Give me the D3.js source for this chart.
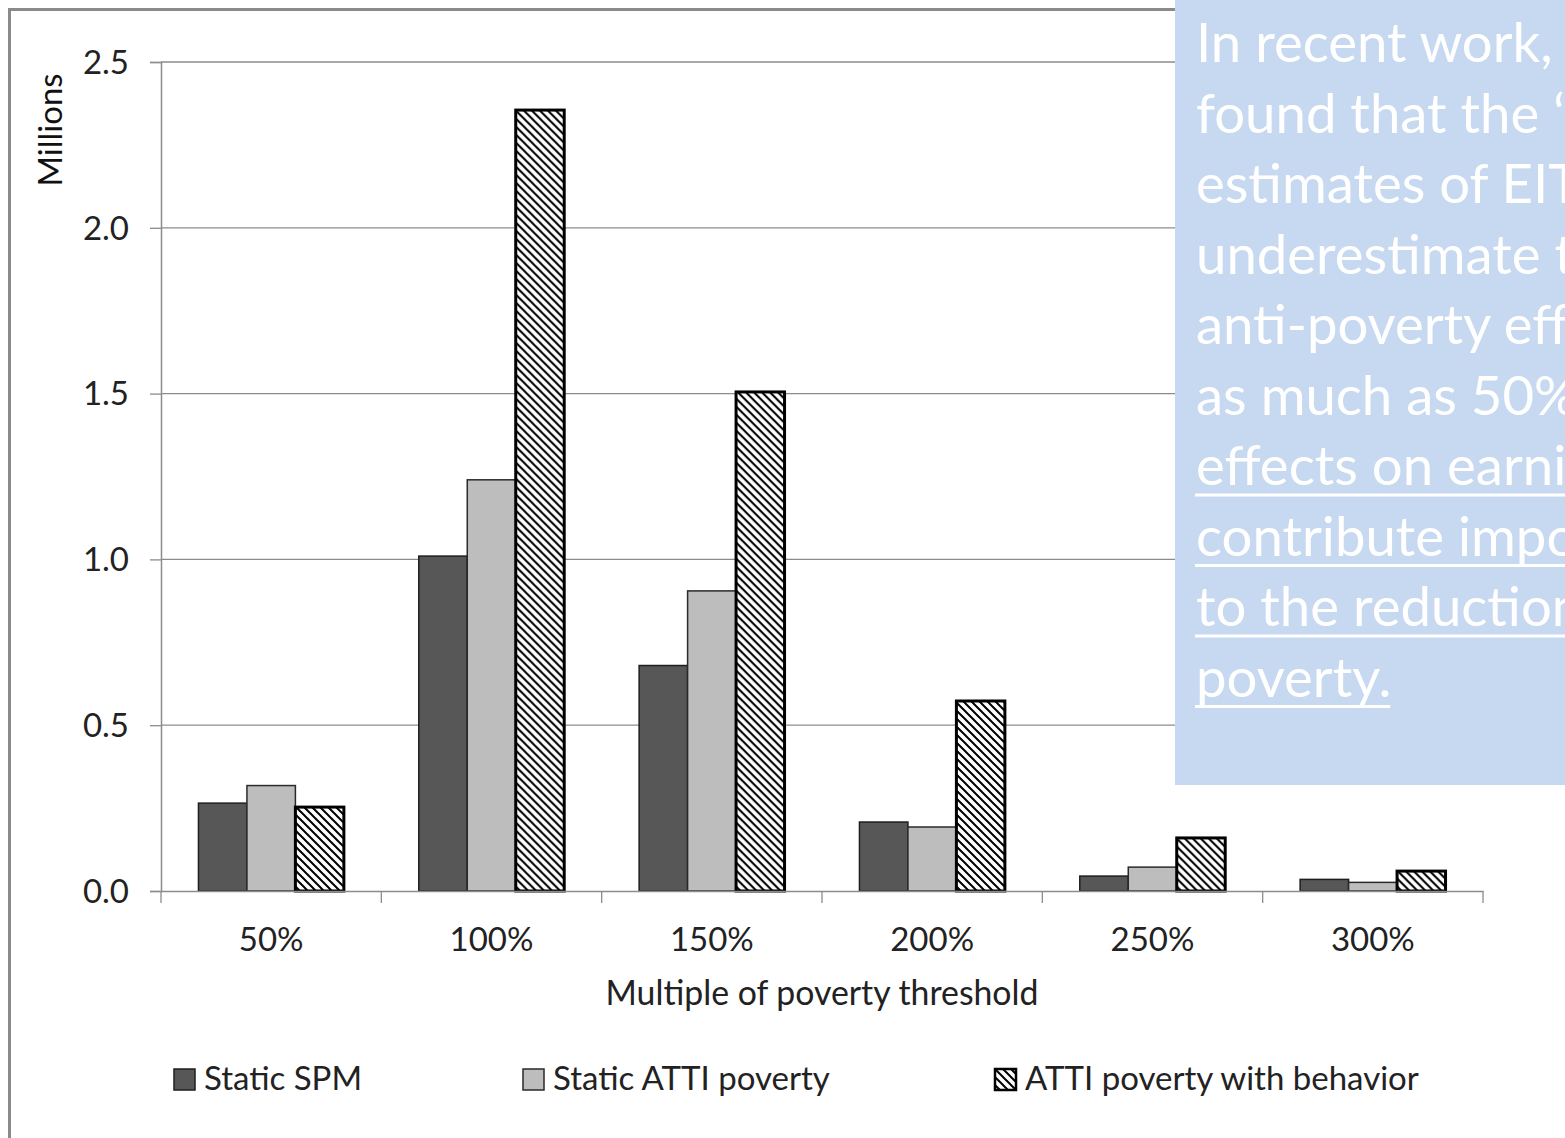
<!DOCTYPE html>
<html>
<head>
<meta charset="utf-8">
<script src="https://cdnjs.cloudflare.com/ajax/libs/d3/7.8.5/d3.min.js"></script>
<style>
  html, body { margin: 0; padding: 0; background: #fff; }
  svg { display: block; }
</style>
</head>
<body>
<svg id="chart" width="1565" height="1138"></svg>
<script>
// Poverty counts (millions) by multiple of the poverty threshold
const categories = ["50%", "100%", "150%", "200%", "250%", "300%"];
const seriesNames = ["Static SPM", "Static ATTI poverty", "ATTI poverty with behavior"];
const staticSPM      = [0.265, 1.01, 0.68, 0.208, 0.045, 0.035];
const staticATTI     = [0.318, 1.24, 0.905, 0.193, 0.072, 0.026];
const attiBehavior   = [0.253, 2.355, 1.505, 0.573, 0.16, 0.06];
const yTicks = [0, 0.5, 1.0, 1.5, 2.0, 2.5];

const noteLines = [
  { text: "In recent work, we have", u: false },
  { text: "found that the \u2018static\u2019", u: false },
  { text: "estimates of EITC effects", u: false },
  { text: "underestimate the", u: false },
  { text: "anti-poverty effects by", u: false },
  { text: "as much as 50%. The", u: false },
  { text: "effects on earnings", u: true },
  { text: "contribute importantly", u: true },
  { text: "to the reduction of", u: true },
  { text: "poverty.", u: true }
];

const seriesValues = [staticSPM, staticATTI, attiBehavior];
const FONT = "Lato, 'Open Sans', sans-serif";
const svg = d3.select("#chart");

// Diagonal hatch fill for the behavioral series
const defs = svg.append("defs");
const pat = defs.append("pattern")
  .attr("id", "hatch").attr("patternUnits", "userSpaceOnUse")
  .attr("width", 8).attr("height", 8);
pat.append("rect").attr("width", 8).attr("height", 8).attr("fill", "#fff");
pat.append("path")
  .attr("d", "M-2,-2L10,10M-2,6L2,10M6,-2L10,2")
  .attr("stroke", "#000").attr("stroke-width", 2);

const styles = [
  { fill: "#575757", stroke: "#1e1e1e", sw: 1.5 },
  { fill: "#bdbdbd", stroke: "#2a2a2a", sw: 1.5 },
  { fill: "url(#hatch)", stroke: "#000", sw: 3 }
];

// Outer chart frame
svg.append("rect")
  .attr("x", 9.5).attr("y", 9.5).attr("width", 1700).attr("height", 1300)
  .attr("fill", "#fff").attr("stroke", "#8a8a8a").attr("stroke-width", 3);

const plot = { left: 161, right: 1483, top: 62, bottom: 891 };

const x0 = d3.scaleBand().domain(categories).range([plot.left, plot.right]).padding(0);
const bw = x0.bandwidth();
const x1 = d3.scaleBand().domain(seriesNames).range([bw * 0.17, bw * 0.83]).padding(0);
const y = d3.scaleLinear().domain([0, 2.5]).range([plot.bottom, plot.top]);

// Gridlines
svg.append("g").selectAll("line").data(yTicks.filter(d => d > 0)).join("line")
  .attr("x1", plot.left).attr("x2", plot.right)
  .attr("y1", d => y(d)).attr("y2", d => y(d))
  .attr("stroke", "#8c8c8c").attr("stroke-width", 1.3);

// Y axis
const yAxis = svg.append("g").attr("transform", `translate(${plot.left},0)`)
  .call(d3.axisLeft(y).tickValues(yTicks).tickFormat(d3.format(".1f")).tickSize(11).tickPadding(21));
yAxis.select(".domain").attr("stroke", "#8c8c8c").attr("stroke-width", 1.5);
yAxis.selectAll(".tick line").attr("stroke", "#8c8c8c").attr("stroke-width", 1.3);
yAxis.selectAll(".tick text").attr("font-family", FONT).attr("font-size", 33)
  .attr("fill", "#222").attr("dy", "0.34em");

// Bars
categories.forEach((cat, i) => {
  const g = svg.append("g").attr("transform", `translate(${x0(cat)},0)`);
  seriesNames.forEach((s, j) => {
    const v = seriesValues[j][i];
    g.append("rect")
      .attr("x", x1(s)).attr("width", x1.bandwidth())
      .attr("y", y(v)).attr("height", y(0) - y(v))
      .attr("fill", styles[j].fill)
      .attr("stroke", styles[j].stroke).attr("stroke-width", styles[j].sw);
  });
});

// X axis
const xAxis = svg.append("g").attr("transform", `translate(0,${plot.bottom})`)
  .call(d3.axisBottom(x0).tickSize(0).tickPadding(37));
xAxis.select(".domain").attr("stroke", "#8c8c8c").attr("stroke-width", 1.5);
xAxis.selectAll(".tick text").attr("font-family", FONT).attr("font-size", 33).attr("fill", "#222");
const bounds = categories.map(c => x0(c)).concat([plot.right]);
xAxis.append("g").selectAll("line").data(bounds).join("line")
  .attr("x1", d => d).attr("x2", d => d).attr("y1", 0).attr("y2", 12)
  .attr("stroke", "#8c8c8c").attr("stroke-width", 1.3);

// Axis titles
svg.append("text")
  .attr("transform", `translate(62,130) rotate(-90)`)
  .attr("text-anchor", "middle")
  .attr("font-family", FONT).attr("font-size", 33).attr("fill", "#111")
  .text("Millions");
svg.append("text")
  .attr("x", (plot.left + plot.right) / 2).attr("y", 1005)
  .attr("text-anchor", "middle")
  .attr("font-family", FONT).attr("font-size", 33.8).attr("fill", "#222")
  .text("Multiple of poverty threshold");

// Legend
const legendX = [174, 523, 995];
const legend = svg.append("g");
seriesNames.forEach((s, j) => {
  const lg = legend.append("g").attr("transform", `translate(${legendX[j]},1069)`);
  lg.append("rect").attr("width", 21).attr("height", 21)
    .attr("fill", styles[j].fill).attr("stroke", styles[j].stroke)
    .attr("stroke-width", j === 2 ? 2.5 : 1.5);
  lg.append("text").attr("x", 30).attr("y", 21)
    .attr("font-family", FONT).attr("font-size", 33).attr("fill", "#222")
    .text(s);
});

// Callout box (its text runs past the right edge of the page)
const box = { x: 1175, y: 0, w: 400, h: 785 };
defs.append("clipPath").attr("id", "boxclip")
  .append("rect").attr("x", box.x).attr("y", box.y).attr("width", 1565 - box.x).attr("height", box.h);
const note = svg.append("g").attr("clip-path", "url(#boxclip)");
note.append("rect").attr("x", box.x).attr("y", box.y).attr("width", box.w).attr("height", box.h)
  .attr("fill", "#c6d9f0");
noteLines.forEach((ln, i) => {
  const t = note.append("text")
    .attr("x", 1196).attr("y", 62 + i * 70.5)
    .attr("font-family", FONT).attr("font-size", 54.5).attr("fill", "#fff")
    .text(ln.text);
  if (ln.u) {
    const w = t.node().getComputedTextLength();
    note.append("line")
      .attr("x1", 1195).attr("x2", 1195 + w)
      .attr("y1", 62 + i * 70.5 + 10).attr("y2", 62 + i * 70.5 + 10)
      .attr("stroke", "#fff").attr("stroke-width", 3);
  }
});
</script>
</body>
</html>
